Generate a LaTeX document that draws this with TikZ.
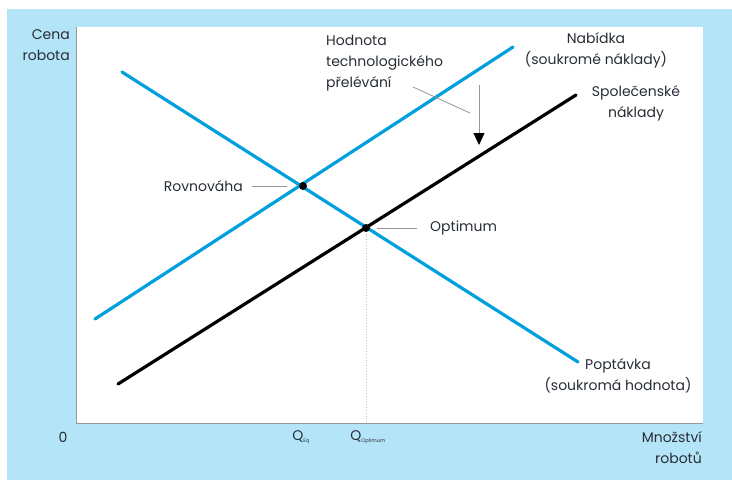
\documentclass[tikz,border=0pt]{standalone}
\usepackage{fontspec}
\setmainfont{Poppins}
\usetikzlibrary{arrows.meta}
\definecolor{bgblue}{RGB}{180,228,247}
\definecolor{curveblue}{RGB}{0,160,222}
\definecolor{labelgrey}{RGB}{40,46,54}
\definecolor{leadergrey}{RGB}{150,150,150}

\begin{document}
\begin{tikzpicture}[x=1pt,y=-1pt,
    lbl/.style={text=labelgrey, font=\fontsize{14}{21}\selectfont, inner sep=0pt, align=center},
    qlbl/.style={text=labelgrey, font=\fontsize{14}{16}\selectfont, inner sep=0pt},
    curve/.style={curveblue, line width=3.2pt, line cap=round},
    social/.style={black, line width=3.2pt, line cap=round},
    leader/.style={leadergrey, line width=0.8pt},
    dot/.style={circle, fill=black, inner sep=0pt, minimum size=8pt}]
            % Define the background and the plot area
            \useasboundingbox (0,0) rectangle (732,480);
            \fill[white] (0,0) rectangle (732,480);
            \fill[bgblue] (7,9) rectangle (732,480);
            \fill[white] (76,27) rectangle (703,423);
            \draw[leadergrey, line width=1pt] (76,27) -- (76,423) -- (703,423);

            % Define the end points of the three curves
            \coordinate (dem1) at (122,72);
            \coordinate (dem2) at (578,362);
            \coordinate (sup1) at (95,319);
            \coordinate (sup2) at (513,47);
            \coordinate (soc1) at (118,384);
            \coordinate (soc2) at (576,95);
            \coordinate (qopt) at (366,423);

            % Dotted line down to the optimum quantity
            \draw[leadergrey!60, dotted, line width=0.8pt] (366,228) -- (qopt);

            % Draw the curves
            \draw[curve] (dem1) -- (dem2);
            \draw[curve] (sup1) -- (sup2);
            \draw[social] (soc1) -- (soc2);

            % Points of equilibrium and optimum
            \node[dot] (eq) at (303,186) {};
            \node[dot] (opt) at (366,228) {};

            % Labels of the axes
            \node[lbl, anchor=east, align=right] (price) at (70,45) {Cena\\robota};
            \node[lbl, anchor=east, align=right] (qty) at (702,448) {Množství\\robotů};
            \node[qlbl] (zero) at (63,437) {0};
            \node[qlbl] (qeq) at (301,437) {Q\textsubscript{\tiny Eq}};
            \node[qlbl] (qoptlbl) at (368,437) {Q\textsubscript{\tiny Optimum}};

            % Labels of the curves
            \node[lbl] (supply) at (596,50) {Nabídka\\(soukromé náklady)};
            \node[lbl] (soccost) at (636,103) {Společenské\\náklady};
            \node[lbl] (demand) at (618,376) {Poptávka\\(soukromá hodnota)};

            % Labels of the points with leader lines
            \node[lbl, anchor=east] (rov) at (243,186) {Rovnováha};
            \node[lbl, anchor=west] (optlbl) at (430,228) {Optimum};
            \draw[leader] ([xshift=9pt]rov.east) -- ([xshift=-16pt]eq.center);
            \draw[leader] ([xshift=11pt]opt.center) -- ([xshift=-13pt]optlbl.west);

            % Value of the spillover
            \node[lbl, anchor=north west, align=left] (spill) at (326,35) {Hodnota\\technologického\\přelévání};
            \coordinate (lead1) at (413,87);
            \coordinate (lead2) at (470,113);
            \draw[leader] (lead1) -- (lead2);
            \coordinate (arrtop) at (479,85);
            \coordinate (arrbot) at (479,145);
            \draw[leader, -{Triangle[black, width=11pt, length=12pt]}] (arrtop) -- (arrbot);
        \end{tikzpicture}
\end{document}
